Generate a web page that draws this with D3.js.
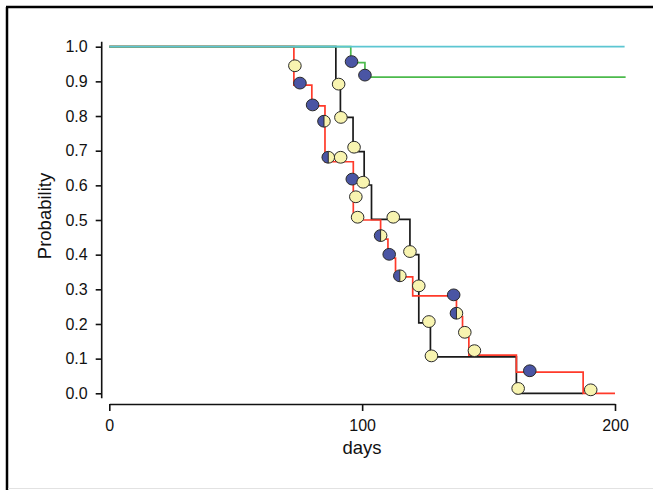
<!DOCTYPE html>
<html>
<head>
<meta charset="utf-8">
<script src="https://cdn.jsdelivr.net/npm/d3@7"></script>
<style>
  html, body { margin: 0; padding: 0; background: #fff; }
  svg { display: block; font-family: "Liberation Sans", Arial, sans-serif; }
</style>
</head>
<body>
<div id="chart"></div>
<script>
(function () {
    // step curves: [day, survival from that day on]; last point is where the line ends
    const redSteps = [[0, 1], [73.0, 0.889], [80.1, 0.829], [85.3, 0.668], [96.5, 0.50],
        [107.3, 0.445], [110.2, 0.390], [113.2, 0.336], [120.0, 0.281], [137.3, 0.221],
        [139.7, 0.163], [142.2, 0.110], [161.0, 0.061], [187.4, 0.0], [200, 0.0]];
    const blackSteps = [[0, 1], [89.6, 0.90], [91.4, 0.796], [96.4, 0.697], [100.8, 0.601],
        [103.7, 0.502], [118.9, 0.40], [122.4, 0.203], [127.0, 0.105], [161.0, 0.0], [187.4, 0.0]];
    const greenSteps = [[0, 1], [95.5, 0.954], [101.1, 0.912], [204.2, 0.912]];
    const cyanSteps = [[0, 1], [203.8, 1]];

    // event markers: [day, probability]
    const blueMarks = [[75.4, 0.895], [80.4, 0.832], [96.1, 0.618], [95.8, 0.957], [101.1, 0.918],
        [110.7, 0.401], [136.2, 0.284], [166.3, 0.065]];
    const halfMarks = [[84.9, 0.785], [86.6, 0.681], [107.3, 0.455], [114.9, 0.339], [137.3, 0.231]];
    const yellowMarks = [[73.4, 0.945], [90.7, 0.892], [91.6, 0.796], [91.5, 0.681], [96.8, 0.710],
        [100.4, 0.609], [97.5, 0.567], [98.2, 0.508], [112.3, 0.508], [118.9, 0.409], [122.4, 0.310],
        [126.4, 0.207], [127.4, 0.108], [140.6, 0.176], [144.4, 0.123], [161.7, 0.014], [190.4, 0.010]];

    const xTicks = [0, 100, 200];
    const yTicks = [0, 0.1, 0.2, 0.3, 0.4, 0.5, 0.6, 0.7, 0.8, 0.9, 1.0];

    const width = 653, height = 490;
    const svg = d3.select("#chart").append("svg")
        .attr("width", width)
        .attr("height", height);

    // outer frame
    svg.append("line").attr("x1", 7).attr("y1", 7).attr("x2", 7).attr("y2", height)
        .attr("stroke", "#000").attr("stroke-width", 2.5);
    svg.append("line").attr("x1", 6).attr("y1", 7).attr("x2", width).attr("y2", 7)
        .attr("stroke", "#000").attr("stroke-width", 2.5);
    svg.append("line").attr("x1", 8).attr("y1", 488.5).attr("x2", width).attr("y2", 488.5)
        .attr("stroke", "#e2e2e2").attr("stroke-width", 1);

    const x = d3.scaleLinear().domain([0, 200]).range([109.3, 615]);
    const y = d3.scaleLinear().domain([0, 1]).range([393.3, 46.7]);

    // y axis
    const yAxis = svg.append("g")
        .attr("transform", "translate(101.7,0)")
        .call(d3.axisLeft(y).tickValues(yTicks).tickFormat(d3.format(".1f")).tickSize(6).tickPadding(8));
    yAxis.select(".domain").attr("d", "M0,41.7V398.3");

    // x axis
    svg.append("g")
        .attr("transform", "translate(0,404)")
        .call(d3.axisBottom(x).tickValues(xTicks).tickSize(7).tickSizeOuter(0).tickPadding(9));

    svg.selectAll(".tick text").attr("font-size", 16).attr("fill", "#111")
        .attr("font-family", "Liberation Sans, Arial, sans-serif");
    svg.selectAll(".domain, .tick line").attr("stroke", "#111").attr("stroke-width", 1.6);

    svg.append("text")
        .attr("x", 362).attr("y", 454)
        .attr("text-anchor", "middle")
        .attr("font-size", 18.5)
        .attr("fill", "#111")
        .text("days");

    svg.append("text")
        .attr("transform", "translate(51,216) rotate(-90)")
        .attr("text-anchor", "middle")
        .attr("font-size", 18.5)
        .attr("fill", "#111")
        .text("Probability");

    const line = d3.line()
        .x(d => x(d[0]))
        .y(d => y(d[1]))
        .curve(d3.curveStepAfter);

    const curves = [
        { steps: blackSteps, color: "#1a1a1a" },
        { steps: redSteps, color: "#ff3a2a" },
        { steps: greenSteps, color: "#4cba4c" },
        { steps: cyanSteps, color: "#5cc6d2" }
    ];

    svg.append("g")
        .selectAll("path")
        .data(curves)
        .join("path")
        .attr("d", d => line(d.steps))
        .attr("fill", "none")
        .attr("stroke", d => d.color)
        .attr("stroke-width", 1.7);

    const rx = 6.3, ry = 5.9;
    const blue = "#4a55a4", yellow = "#f8f4b0", edge = "#2a2a2a";

    const marks = svg.append("g");

    marks.selectAll("ellipse.blue")
        .data(blueMarks)
        .join("ellipse")
        .attr("class", "blue")
        .attr("cx", d => x(d[0]))
        .attr("cy", d => y(d[1]))
        .attr("rx", rx).attr("ry", ry)
        .attr("fill", blue)
        .attr("stroke", edge).attr("stroke-width", 1);

    marks.selectAll("ellipse.yellow")
        .data(yellowMarks)
        .join("ellipse")
        .attr("class", "yellow")
        .attr("cx", d => x(d[0]))
        .attr("cy", d => y(d[1]))
        .attr("rx", rx).attr("ry", ry)
        .attr("fill", yellow)
        .attr("stroke", edge).attr("stroke-width", 1);

    const half = marks.selectAll("g.half")
        .data(halfMarks)
        .join("g")
        .attr("class", "half")
        .attr("transform", d => `translate(${x(d[0])},${y(d[1])})`);

    half.append("ellipse")
        .attr("rx", rx).attr("ry", ry)
        .attr("fill", yellow);
    half.append("path")
        .attr("d", `M0,${-ry}A${rx},${ry} 0 0 0 0,${ry}Z`)
        .attr("fill", blue);
    half.append("line")
        .attr("x1", 0).attr("y1", -ry).attr("x2", 0).attr("y2", ry)
        .attr("stroke", edge).attr("stroke-width", 1);
    half.append("ellipse")
        .attr("rx", rx).attr("ry", ry)
        .attr("fill", "none")
        .attr("stroke", edge).attr("stroke-width", 1);
})();
</script>
</body>
</html>
